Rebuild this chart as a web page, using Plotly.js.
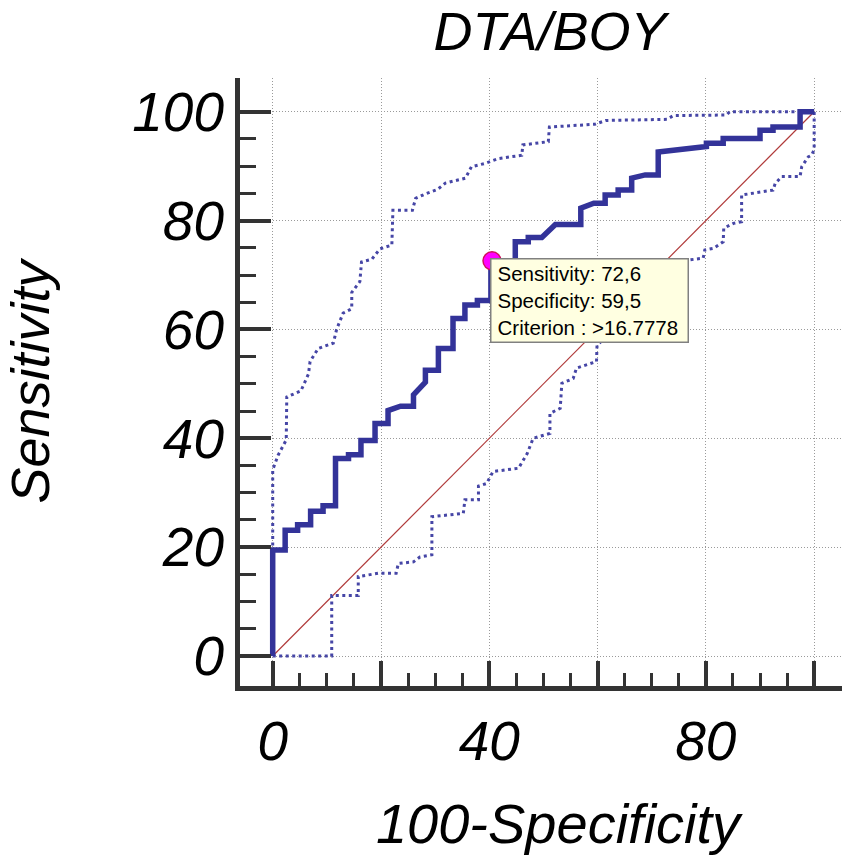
<!DOCTYPE html>
<html>
<head>
<meta charset="utf-8">
<script src="https://cdn.plot.ly/plotly-3.0.1.min.js"></script>
<style>
  html, body { margin: 0; padding: 0; overflow: hidden; background: #fff; }
  #chart { width: 876px; height: 855px; }
</style>
</head>
<body>
<div id="chart"></div>
<script>
// ---- data ----
const chartTitle = "DTA/BOY";
const xTitle = "100-Specificity";
const yTitle = "Sensitivity";

// empirical ROC curve (x = 100-Specificity, y = Sensitivity)
const rocX = [0,0,2.3,2.3,4.6,4.6,7.0,7.0,9.3,9.3,11.6,11.6,14.0,14.0,16.3,16.3,18.9,18.9,21.3,21.3,23.6,26.0,26.0,28.2,28.2,30.6,30.6,33.3,33.3,35.5,35.5,37.8,37.8,40.3,40.3,44.8,44.8,47.2,47.2,49.7,52.2,56.9,56.9,59.3,61.4,61.4,63.8,63.8,66.3,66.3,68.8,71.2,71.2,80.1,80.1,83.2,83.2,90.0,90.0,92.4,92.4,97.4,97.4,100];
const rocY = [0,19.5,19.5,23.1,23.1,24.1,24.1,26.6,26.6,27.6,27.6,36.3,36.3,37.0,37.0,39.6,39.6,42.7,42.7,45.1,45.9,45.9,48.0,50.3,52.5,52.5,56.5,56.5,62.0,62.0,64.5,64.5,65.3,65.3,72.6,72.6,76.1,76.1,76.9,76.9,79.3,79.3,82.3,83.2,83.2,84.7,84.7,85.6,85.6,87.8,88.4,88.4,92.6,93.6,94.2,94.2,95.1,95.1,96.6,96.6,97.2,97.2,100,100];

// upper 95% confidence bound
const upperX = [0,0,1.0,2.5,2.6,5.2,6.6,6.9,8.4,11.2,11.8,13.0,14.6,14.6,16.1,16.4,18.3,19.8,22.0,22.2,25.8,26.4,28.2,30.4,31.9,35.6,36.7,39.2,41.7,44.1,46.0,46.2,50.9,51.1,59.5,61.5,72.8,74.0,83.8,84.4,100];
const upperY = [0,34.2,36.9,39.7,47.6,48.7,51.8,54.1,56.5,57.5,60.0,63.0,63.8,66.8,68.8,72.4,72.9,74.8,75.5,81.9,81.9,84.1,84.9,85.7,86.9,87.8,89.9,90.5,91.4,91.7,92.0,93.9,94.5,97.2,97.7,98.4,98.6,99.3,99.4,100,100];

// lower 95% confidence bound
const lowerX = [0,10.9,10.9,15.8,15.8,19.5,22.8,23.2,26.0,27.2,29.4,29.4,35.2,35.5,38.0,38.0,39.5,40.7,45.4,46.0,47.0,48.1,51.2,51.2,53.1,53.4,55.5,56.1,59.8,59.9,77.1,79.5,79.8,81.4,83.2,83.3,85.1,86.6,86.6,92.4,92.8,94.0,97.4,97.7,98.9,99.5,100,100];
const lowerY = [0,0,11.1,11.1,14.6,15.2,15.2,17.0,17.3,18.2,18.6,25.6,26.2,28.7,28.7,31.2,31.7,33.9,34.5,35.6,37.2,40.0,40.9,44.6,45.5,50.1,51.0,52.9,54.1,57.1,72.8,73.1,74.6,74.9,76.1,78.6,79.5,79.8,84.7,85.6,86.8,88.1,88.1,89.9,91.7,92.0,93.0,100];

// chance diagonal
const diagX = [0,100];
const diagY = [0,100];

// optimal criterion point
const cutSensitivity = 72.6;
const cutSpecificity = 59.5;
const cutCriterion = ">16,7778";

// ticks
const majorTicks = [0,20,40,60,80,100];
const xTickText = ["0","","40","","80",""];
const yTickText = ["0","20","40","60","80","100"];
const minorTicks = [5,10,15,25,30,35,45,50,55,65,70,75,85,90,95];

// ---- drawing ----
const FONT = "'Liberation Sans', Arial, sans-serif";
const cutX = 100 - cutSpecificity;

const traces = [
  { x: diagX, y: diagY, type: 'scatter', mode: 'lines',
    line: { color: '#b03a3a', width: 1.2 }, hoverinfo: 'skip' },
  { x: upperX, y: upperY, type: 'scatter', mode: 'lines',
    line: { color: '#4646a6', width: 3, dash: '3px,3.5px' }, hoverinfo: 'skip' },
  { x: lowerX, y: lowerY, type: 'scatter', mode: 'lines',
    line: { color: '#4646a6', width: 3, dash: '3px,3.5px' }, hoverinfo: 'skip' },
  { x: rocX, y: rocY, type: 'scatter', mode: 'lines',
    line: { color: '#333399', width: 5.5 }, hoverinfo: 'skip' },
  { x: [cutX], y: [cutSensitivity], type: 'scatter', mode: 'markers',
    marker: { color: '#ff00ff', size: 18, line: { color: '#d0105a', width: 1.5 } }, hoverinfo: 'skip' }
];

const axisCommon = {
  showline: true, linewidth: 5, linecolor: '#333333',
  zeroline: false, mirror: false,
  showgrid: true, gridcolor: '#9a9a9a', gridwidth: 1, griddash: '1px,2px',
  tickmode: 'array', tickvals: majorTicks,
  ticks: 'inside', tickcolor: '#333333', tickwidth: 4,
  tickfont: { family: FONT, size: 55, style: 'italic', color: '#000' },
  fixedrange: true
};

const layout = {
  width: 876, height: 855,
  margin: { l: 240, r: 0, t: 78, b: 169, pad: 0 },
  paper_bgcolor: '#ffffff', plot_bgcolor: '#ffffff',
  showlegend: false,
  title: {
    text: chartTitle,
    font: { family: FONT, size: 54, style: 'italic', color: '#000' },
    xref: 'container', x: 550 / 876, xanchor: 'center',
    yref: 'container', y: 1 - 31 / 855, yanchor: 'middle'
  },
  xaxis: Object.assign({}, axisCommon, {
    range: [-6.04, 111.42],
    ticktext: xTickText, ticklen: 25, ticklabelstandoff: 3,
    minor: { tickmode: 'array', tickvals: minorTicks, ticks: 'inside', ticklen: 13, tickwidth: 3, tickcolor: '#333333', showgrid: false },
    title: { text: xTitle, standoff: 34, font: { family: FONT, size: 56, style: 'italic', color: '#000' } }
  }),
  yaxis: Object.assign({}, axisCommon, {
    range: [-5.51, 106.2],
    ticktext: yTickText, ticklen: 31,
    minor: { tickmode: 'array', tickvals: minorTicks, ticks: 'inside', ticklen: 16, tickwidth: 3, tickcolor: '#333333', showgrid: false },
    title: { text: yTitle, standoff: 68, font: { family: FONT, size: 54, style: 'italic', color: '#000' } }
  }),
  annotations: [{
    xref: 'x', yref: 'y', x: cutX, y: cutSensitivity,
    xanchor: 'left', yanchor: 'top', xshift: -2, yshift: 3,
    width: 184, height: 70, valign: 'middle',
    text: 'Sensitivity: ' + String(cutSensitivity).replace('.', ',') +
          '<br>Specificity: ' + String(cutSpecificity).replace('.', ',') +
          '<br>Criterion : ' + cutCriterion.replace('>', '&gt;'),
    align: 'left', showarrow: false,
    font: { family: FONT, size: 20.5, color: '#000' },
    bgcolor: '#ffffe1', bordercolor: '#808080', borderwidth: 1.5, borderpad: 6
  }]
};

Plotly.newPlot('chart', traces, layout, { staticPlot: true, displayModeBar: false });
</script>
</body>
</html>
